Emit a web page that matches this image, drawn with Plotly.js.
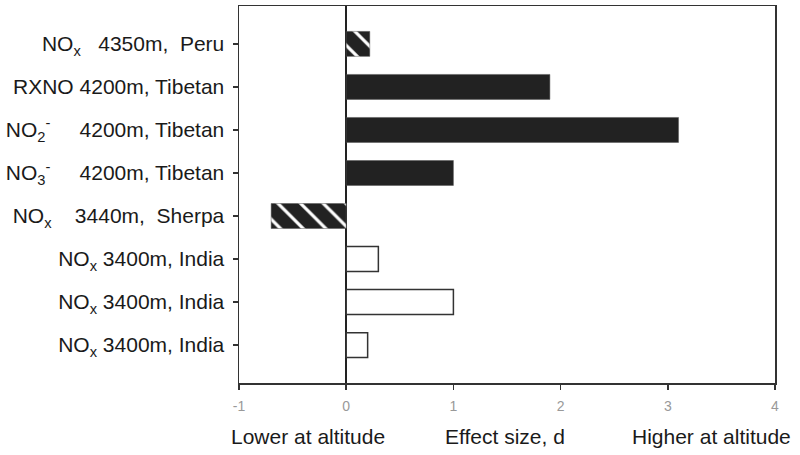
<!DOCTYPE html>
<html>
<head>
<meta charset="utf-8">
<script src="https://cdn.plot.ly/plotly-3.0.1.min.js"></script>
<style>html,body{margin:0;padding:0;background:#fff;}#chart{width:800px;height:455px;}</style>
</head>
<body>
<div id="chart"></div>
<script>
// Categories, top to bottom
const labels = [
  "NO<sub>x</sub>\u00a0\u00a0\u00a04350m,\u00a0\u00a0Peru",
  "RXNO 4200m, Tibetan",
  "NO<sub>2</sub><sup>-</sup>\u00a0\u00a0\u00a0\u00a0\u00a04200m, Tibetan",
  "NO<sub>3</sub><sup>-</sup>\u00a0\u00a0\u00a0\u00a0\u00a04200m, Tibetan",
  "NO<sub>x</sub>\u00a0\u00a0\u00a0\u00a03440m,\u00a0\u00a0Sherpa",
  "NO<sub>x</sub> 3400m, India",
  "NO<sub>x</sub> 3400m, India",
  "NO<sub>x</sub> 3400m, India"
];
// Effect size d
const effectSize = [0.22, 1.9, 3.1, 1.0, -0.7, 0.3, 1.0, 0.2];
// Group: hatched / solid / open
const group = ["hatched", "solid", "solid", "solid", "hatched", "open", "open", "open"];
const xTicks = [-1, 0, 1, 2, 3, 4];
const bottomTexts = ["Lower at altitude", "Effect size, d", "Higher at altitude"];

const pos = labels.map((_, i) => i);
const fillColor = group.map(g => g === "open" ? "#ffffff" : "#222222");
const lineColor = group.map(g => g === "open" ? "#333333" : "#555555");
const lineWidth = group.map(g => g === "open" ? 1.5 : 0.5);
const patShape = group.map(g => g === "hatched" ? "\\" : "");

const trace = {
  type: "bar",
  orientation: "h",
  x: effectSize,
  y: pos,
  width: 0.58,
  marker: {
    color: fillColor,
    line: {color: lineColor, width: lineWidth},
    pattern: {shape: patShape, fillmode: "overlay", fgcolor: "#ffffff", fgopacity: 1, size: 16, solidity: 0.2}
  },
  hoverinfo: "x"
};

const font = "Liberation Sans, Arial, sans-serif";
const layout = {
  width: 800, height: 455,
  margin: {l: 239, r: 25, t: 6, b: 72},
  paper_bgcolor: "#ffffff", plot_bgcolor: "#ffffff",
  showlegend: false,
  bargap: 0,
  xaxis: {
    range: [-1, 4], tickvals: xTicks, ticktext: xTicks.map(String),
    showgrid: false, zeroline: true, zerolinecolor: "#222", zerolinewidth: 1.5,
    showline: true, linecolor: "#333", linewidth: 1.5, mirror: true,
    ticks: "outside", ticklen: 5, tickcolor: "#333", tickwidth: 1.5,
    tickfont: {family: font, size: 14, color: "#999"}, ticklabelstandoff: 5
  },
  yaxis: {
    range: [7.88, -0.88], tickvals: pos, ticktext: labels,
    showgrid: false, zeroline: false,
    showline: true, linecolor: "#333", linewidth: 1.5, mirror: true,
    ticks: "outside", ticklen: 5, tickcolor: "#333", tickwidth: 1.5,
    tickfont: {family: font, size: 21, color: "#1a1a1a"}, ticklabelstandoff: 4
  },
  annotations: bottomTexts.map((t, i) => ({
    text: t, xref: "paper", yref: "paper",
    x: [0.129, 0.496, 0.881][i], y: -0.143,
    xanchor: "center", yanchor: "middle", showarrow: false,
    font: {family: font, size: 21, color: "#1a1a1a"}
  }))
};

Plotly.newPlot("chart", [trace], layout, {displayModeBar: false, staticPlot: true});
</script>
</body>
</html>
